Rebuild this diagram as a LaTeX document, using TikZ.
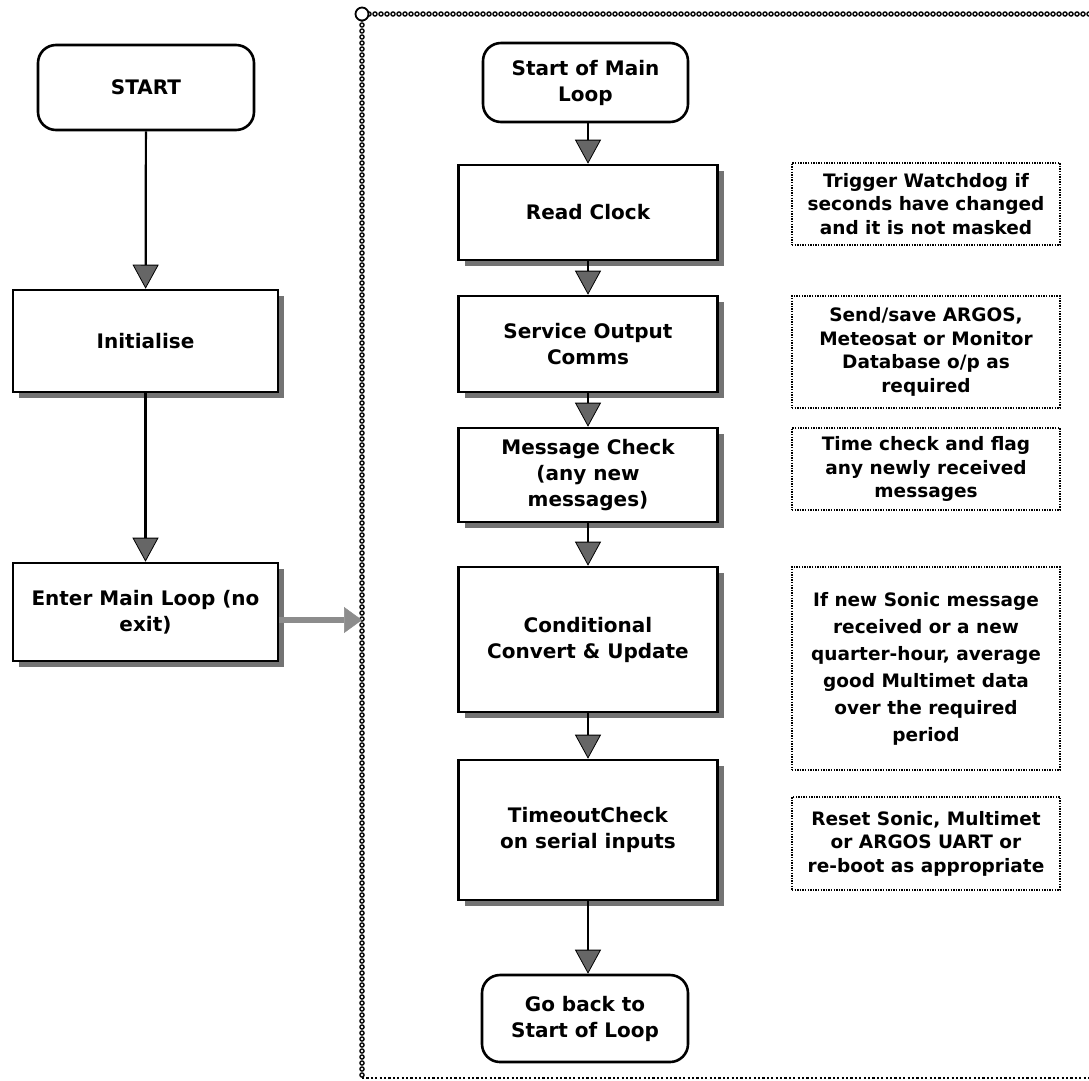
\documentclass[tikz,border=0pt]{standalone}
\usepackage{fontspec}
\setmainfont{DejaVu Sans}
\usetikzlibrary{arrows.meta,shadows}
\begin{document}
\begin{tikzpicture}[x=1pt,y=-1pt,
  txt/.style={font=\bfseries\fontsize{20}{26}\selectfont, align=center},
  notetxt/.style={font=\bfseries\fontsize{18.5}{23.5}\selectfont, align=center},
  roundbox/.style={txt, draw, line width=2.6pt, rounded corners=18pt, fill=white, inner sep=2pt},
  shbox/.style={txt, draw, line width=2.6pt, fill=white, inner sep=2pt, minimum width=259pt,
     drop shadow={shadow xshift=6pt, shadow yshift=-6pt, fill=black!55, opacity=1}},
  notebox/.style={notetxt, draw, line width=1.7pt, dash pattern=on 1.4pt off 1.2pt, fill=white,
     minimum width=268pt, inner sep=2pt},
  flow/.style={line width=2.2pt, -{Triangle[width=26pt,length=24pt,line width=0.8pt,fill=black!60]}},
  chainblack/.style={line width=5.6pt, dash pattern=on 0pt off 6pt, line cap=round},
  chainwhite/.style={white, line width=2.6pt, dash pattern=on 0pt off 6pt, line cap=round}
]
\useasboundingbox (0,0) rectangle (1089,1080);

% frame
\coordinate (ftl) at (362,14);
\coordinate (ftr) at (1089,14);
\coordinate (fbl) at (362,1078);
\coordinate (fbr) at (1089,1078);
\coordinate (fin) at (362,620);
\draw[chainblack] (ftr) -- (ftl) -- (fbl);
\draw[chainwhite] (ftr) -- (ftl) -- (fbl);
\draw[line width=2.2pt, dash pattern=on 2.2pt off 2.2pt] (fbl) -- (fbr);
\node[circle, draw, line width=1.8pt, fill=white, minimum size=13pt, inner sep=0pt] (corner) at (ftl) {};

% left column
\node[roundbox, minimum width=216pt, minimum height=85pt] (start) at (146,87.5) {START};
\node[shbox, minimum width=265pt, minimum height=102pt] (init) at (145.5,341) {Initialise};
\node[shbox, minimum width=265pt, minimum height=98pt] (enter) at (145.5,612) {Enter Main Loop (no\\exit)};

\draw[flow] (start) -- (init);
\draw[flow] (init) -- (enter);
\draw[line width=6pt, black!45, -{Triangle[width=26pt,length=18pt,line width=0.5pt,fill=black!45]}]
  ([yshift=-8pt]enter.east) -- (fin);

% main loop column
\node[roundbox, minimum width=205pt, minimum height=79pt] (sml) at (585.5,82.5) {Start of Main\\Loop};
\node[shbox, minimum height=95pt] (rc) at (588,212.5) {Read Clock};
\node[shbox, minimum height=96pt] (soc) at (588,344) {Service Output\\Comms};
\node[shbox, minimum height=94pt] (mc) at (588,475) {Message Check\\(any new\\messages)};
\node[shbox, minimum height=145pt] (ccu) at (588,639.5) {Conditional\\Convert \& Update};
\node[shbox, minimum height=140pt] (tc) at (588,830) {TimeoutCheck\\on serial inputs};
\node[roundbox, minimum width=206pt, minimum height=87pt] (gb) at (585,1018.5) {Go back to\\Start of Loop};

\draw[flow] (sml.south -| rc.north) -- (rc.north);
\draw[flow] (rc) -- (soc);
\draw[flow] (soc) -- (mc);
\draw[flow] (mc) -- (ccu);
\draw[flow] (ccu) -- (tc);
\draw[flow] (tc.south) -- (gb.north -| tc.south);

% notes
\node[notebox, minimum height=82pt] (n1) at (926,204) {Trigger Watchdog if\\seconds have changed\\and it is not masked};
\node[notebox, minimum height=112pt] (n2) at (926,352) {Send/save ARGOS,\\Meteosat or Monitor\\Database o/p as\\required};
\node[notebox, minimum height=82pt] (n3) at (926,469) {Time check and flag\\any newly received\\messages};
\node[notebox, minimum height=203pt, font=\bfseries\fontsize{18.5}{27}\selectfont] (n4) at (926,668.5) {If new Sonic message\\received or a new\\quarter-hour, average\\good Multimet data\\over the required\\period};
\node[notebox, minimum height=93pt] (n5) at (926,843.5) {Reset Sonic, Multimet\\or ARGOS UART or\\re-boot as appropriate};
\end{tikzpicture}
\end{document}
